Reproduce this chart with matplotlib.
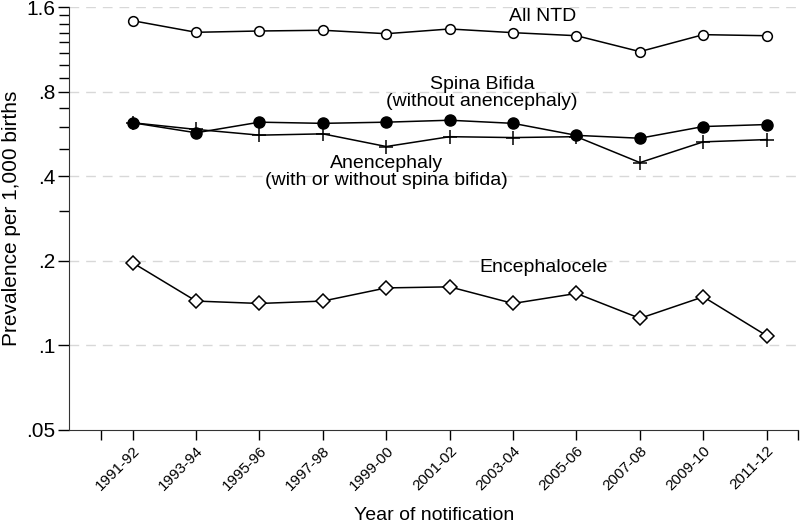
import numpy as np
import matplotlib
matplotlib.use('Agg')
from matplotlib import pyplot as plt
from matplotlib.ticker import FixedLocator, NullFormatter

plt.rcParams['font.family'] = ['Liberation Sans', 'DejaVu Sans']

periods = ['1991-92', '1993-94', '1995-96', '1997-98', '1999-00', '2001-02',
           '2003-04', '2005-06', '2007-08', '2009-10', '2011-12']

all_ntd = [1.434, 1.304, 1.318, 1.326, 1.289, 1.340, 1.300, 1.268, 1.113, 1.279, 1.268]
spina_bifida = [0.621, 0.572, 0.624, 0.618, 0.624, 0.634, 0.618, 0.560, 0.547, 0.602, 0.612]
anencephaly = [0.621, 0.588, 0.561, 0.567, 0.511, 0.554, 0.550, 0.554, 0.448, 0.531, 0.541]
encephalocele = [0.197, 0.1439, 0.1411, 0.1439, 0.1603, 0.1617, 0.1411, 0.1532, 0.1249, 0.149, 0.1083]

y_major = [0.05, 0.1, 0.2, 0.4, 0.8, 1.6]
y_major_labels = ['.05', '.1', '.2', '.4', '.8', '1.6']
y_minor = [0.3, 0.5, 0.6, 0.7, 0.9, 1.0, 1.1, 1.2, 1.3, 1.4, 1.5]

x = np.arange(len(periods))

fig = plt.figure(figsize=(8, 5.25), dpi=100)
ax = fig.add_axes([0.0866, 0.181, 0.9114, 0.805])

ax.plot(x, all_ntd, color='black', lw=1.1, marker='o', ms=7,
        mfc='white', mec='black', mew=1.1)
ax.plot(x, spina_bifida, color='black', lw=1.1, marker='o', ms=8,
        mfc='black', mec='black')
ax.plot(x, anencephaly, color='black', lw=1.1, marker='+', ms=10, mew=1.1)
ax.plot(x, encephalocele, color='black', lw=1.1, marker='D', ms=7.5,
        mfc='white', mec='black', mew=1.1)

ax.set_yscale('log')
ax.set_ylim(0.05, 1.6)
ax.yaxis.set_major_locator(FixedLocator(y_major))
ax.set_yticklabels(y_major_labels)
ax.yaxis.set_minor_locator(FixedLocator(y_minor))
ax.yaxis.set_minor_formatter(NullFormatter())
ax.tick_params(axis='y', which='major', length=8, width=1, labelsize=15, pad=2)
ax.tick_params(axis='y', which='minor', length=7, width=1)

ax.set_xlim(-1, 10.5)
ax.set_xticks(list(x) + [-0.5, 10.5])
ax.set_xticklabels(periods + ['', ''], rotation=45, ha='right',
                   rotation_mode='anchor', fontsize=11)
ax.tick_params(axis='x', length=7, width=1, pad=3)

for v in y_major[1:]:
    ax.axhline(v, color='#d8d8d8', lw=1, dashes=(7, 5), zorder=0)

ax.spines['top'].set_visible(False)
ax.spines['right'].set_visible(False)
for s in ('left', 'bottom'):
    ax.spines[s].set_color('#333333')

ax.set_ylabel('Prevalence per 1,000 births', fontsize=15, labelpad=4)
ax.set_xlabel('Year of notification', fontsize=14, labelpad=10)

ax.text(6.47, 1.49, 'All NTD', ha='center', va='center', fontsize=14)
ax.text(5.51, 0.795, 'Spina Bifida\n(without anencephaly)', ha='center',
        va='center', fontsize=14, linespacing=1.0)
ax.text(4.0, 0.413, 'Anencephaly\n(with or without spina bifida)', ha='center',
        va='center', fontsize=14, linespacing=1.0)
ax.text(6.48, 0.19, 'Encephalocele', ha='center', va='center', fontsize=14)

fig.savefig('out.png', dpi=100)
